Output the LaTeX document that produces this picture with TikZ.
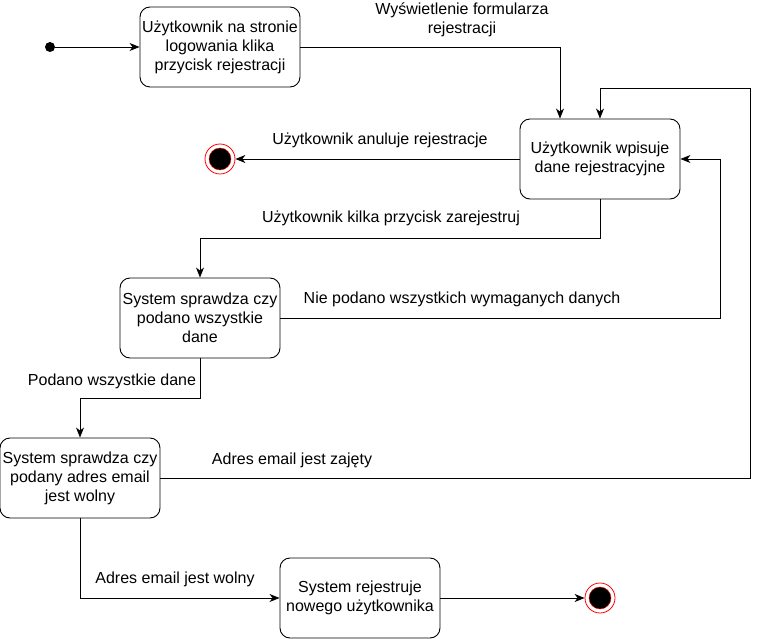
\documentclass[tikz,border=0pt]{standalone}
\usepackage{fontspec}
\setmainfont{Liberation Sans}
\usetikzlibrary{positioning, arrows.meta}

\begin{document}
\begin{tikzpicture}[
                    % GLOBAL CFG
                    x=1pt, y=-1pt,
                    font=\fontsize{16}{19}\selectfont,
                    >={Stealth[length=10pt, width=8pt, inset=3pt]},
                    % Styles
                    state/.style={% For the activity boxes
                            rectangle,
                            rounded corners=10pt,
                            draw,
                            line width=0.9pt,
                            minimum width=160pt,
                            minimum height=80pt,
                            align=center,
                            inner sep=1pt,
                        },
                    start/.style={% For the initial dot
                            circle,
                            fill,
                            inner sep=0pt,
                            minimum size=10pt,
                        },
                    finish/.style={% For the final states
                            circle,
                            draw=red,
                            line width=0.8pt,
                            minimum size=30pt,
                            inner sep=0pt,
                            path picture={\fill[black, draw=red, line width=0.4pt] (path picture bounding box.center) circle (11pt);},
                        },
                    mylabel/.style={% For transition texts
                            align=center,
                            inner sep=0pt,
                        },
                    ArrowC1/.style={% Transitions
                            ->,
                            line width=0.9pt,
                        },
                ]

                \useasboundingbox (0,0) rectangle (761,639);

                % Draw the states
                \node [start] (init) at (50,47) {};
                \node [state] (klik) at (220,47) {Użytkownik na stronie\\logowania klika\\przycisk rejestracji};
                \node [state] (wpis) at (600,159) {Użytkownik wpisuje\\dane rejestracyjne};
                \node [state] (dane) at (200,318) {System sprawdza czy\\podano wszystkie\\dane};
                \node [state] (mail) at (80,478) {System sprawdza czy\\podany adres email\\jest wolny};
                \node [state] (rejs) at (360,598) {System rejestruje\\nowego użytkownika};

                % Draw final states
                \node [finish] (end1) at (220,159) {};
                \node [finish] (end2) at (600,598) {};

                % Draw transition texts
                \node [mylabel] (lwysw) at (462,20) {Wyświetlenie formularza\\rejestracji};
                \node [mylabel] (lanul) at (380,140) {Użytkownik anuluje rejestracje};
                \node [mylabel] (lklik) at (391,218) {Użytkownik kilka przycisk zarejestruj};
                \node [mylabel] (lniep) at (462,299) {Nie podano wszystkich wymaganych danych};
                \node [mylabel] (lpoda) at (112,381) {Podano wszystkie dane};
                \node [mylabel] (lzaje) at (292,460) {Adres email jest zajęty};
                \node [mylabel] (lwoln) at (175,579) {Adres email jest wolny};

                % Drawing arrows
                \draw [ArrowC1] (init) -- (klik);
                \draw [ArrowC1] (klik) -| ([xshift=-40pt]wpis.north);
                \draw [ArrowC1] (wpis) -- (end1);
                \draw [ArrowC1] (wpis.south) -- ++(0,39) -| (dane.north);
                \draw [ArrowC1] (dane.east) -| ([xshift=40pt]wpis.east) -- (wpis.east);
                \draw [ArrowC1] (dane.south) -- ++(0,40) -| (mail.north);
                \draw [ArrowC1] (mail.east) -| ([xshift=150pt, yshift=30pt]wpis.north) -| (wpis.north);
                \draw [ArrowC1] (mail.south) |- (rejs.west);
                \draw [ArrowC1] (rejs) -- (end2);

            \end{tikzpicture}
\end{document}
